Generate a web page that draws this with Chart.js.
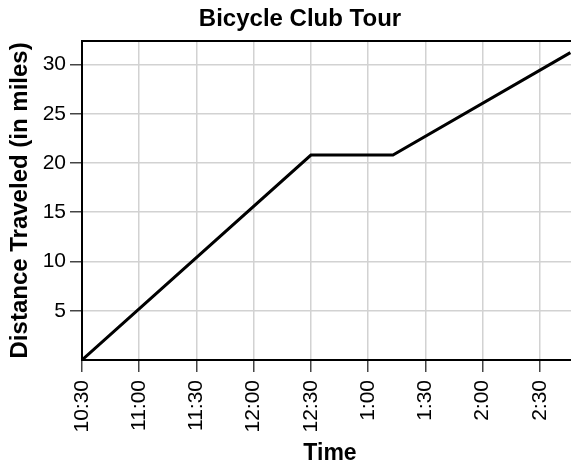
<!DOCTYPE html>
<html>
<head>
<meta charset="utf-8">
<script src="https://cdn.jsdelivr.net/npm/chart.js@4.4.1/dist/chart.umd.min.js"></script>
<style>
  html, body { margin: 0; padding: 0; background: #fff; overflow: hidden; }
  #wrap { width: 600px; height: 467px; }
</style>
</head>
<body>
<div id="wrap"><canvas id="chTour" width="600" height="467"></canvas></div>
<script>
/* Bicycle Club Tour – distanza percorsa nel tempo */
const minutesFromStart = [0, 120, 163, 256];      // minuti dalle 10:30
const milesTraveled    = [0, 20.8, 20.8, 31.2];
const timeLabels = ['10:30', '11:00', '11:30', '12:00', '12:30', '1:00', '1:30', '2:00', '2:30'];
const yTicks = [5, 10, 15, 20, 25, 30];

const FONT = "'Liberation Sans', Arial, Helvetica, sans-serif";
const GRID = '#d2d2d2';
const TICK = '#444';

new Chart(document.getElementById('chTour'), {
  type: 'line',
  data: {
    datasets: [{
      data: minutesFromStart.map((m, i) => ({ x: m, y: milesTraveled[i] })),
      borderColor: '#000', borderWidth: 3, pointRadius: 0, tension: 0, fill: false
    }]
  },
  options: {
    responsive: false, animation: false, devicePixelRatio: 1,
    layout: { padding: 0 },
    plugins: {
      legend: { display: false },
      tooltip: { enabled: false },
      title: {
        display: true, text: 'Bicycle Club Tour', color: '#000',
        font: { family: FONT, size: 24, weight: 'bold' },
        padding: { top: 5, bottom: 7 }
      }
    },
    scales: {
      x: {
        type: 'linear', position: 'bottom', min: 0, max: 260,
        afterFit: s => { s.height = 107; },
        border: { color: '#000', width: 2 },
        grid: { color: GRID, lineWidth: 1.5, tickLength: 12, tickColor: TICK, tickWidth: 1.5 },
        ticks: {
          stepSize: 30, includeBounds: false, autoSkip: false,
          minRotation: 90, maxRotation: 90, padding: 8,
          color: '#000', font: { family: FONT, size: 21 },
          callback: (v, i) => timeLabels[i]
        },
        title: {
          display: true, text: 'Time', color: '#000',
          font: { family: FONT, size: 23, weight: 'bold' },
          padding: { top: 2, bottom: 0 }
        }
      },
      xTop: {
        type: 'linear', position: 'top', min: 0, max: 260,
        afterFit: s => { s.height = 0; },
        border: { display: true, color: '#000', width: 2 },
        grid: { display: false, drawTicks: false },
        ticks: { display: false }
      },
      y: {
        type: 'linear', position: 'left', min: 0, max: 32.4,
        afterFit: s => { s.width = 82; },
        border: { color: '#000', width: 2 },
        grid: {
          color: GRID, lineWidth: 1.5, tickLength: 12, tickWidth: 1.5,
          tickColor: ctx => (ctx.tick && yTicks.includes(ctx.tick.value)) ? TICK : 'rgba(0,0,0,0)'
        },
        ticks: {
          stepSize: 5, includeBounds: false, padding: 4,
          color: '#000', font: { family: FONT, size: 21 },
          callback: v => yTicks.includes(v) ? String(v) : ''
        },
        title: {
          display: true, text: 'Distance Traveled (in miles)', color: '#000',
          font: { family: FONT, size: 24, weight: 'bold' },
          padding: { top: 6, bottom: 0 }
        }
      },
      yRight: {
        type: 'linear', position: 'right', min: 0, max: 32.4,
        afterFit: s => { s.width = 22; },
        border: { display: false },
        grid: { display: false, drawTicks: false },
        ticks: { display: false }
      }
    }
  }
});
</script>
</body>
</html>
